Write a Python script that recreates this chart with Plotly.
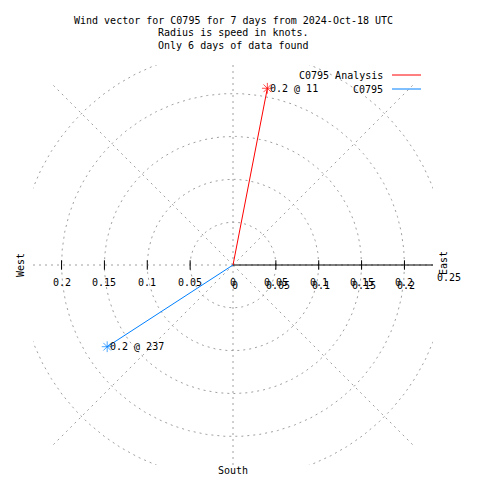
import numpy as np
import plotly.graph_objects as go

# ---- data ----
series_names = ["C0795 Analysis", "C0795"]
series_speed = [0.21, 0.175]          # knots
series_dir = [11, 237]                # degrees, clockwise from north
series_labels = ["0.2 @ 11", "0.2 @ 237"]
series_colors = ["#ff0000", "#0080ff"]

grid_radii = [0.05, 0.1, 0.15, 0.2, 0.25]
spoke_angles = [0, 45, 90, 135, 180, 225, 270, 315]
tick_vals = [-0.2, -0.15, -0.1, -0.05, 0, 0.05, 0.1, 0.15, 0.2]
tick_text = ["0.2", "0.15", "0.1", "0.05", "0", "0.05", "0.1", "0.15", "0.2"]
edge_label = "0.25"
title_lines = ["Wind vector for C0795 for 7 days from 2024-Oct-18 UTC",
               "Radius is speed in knots.",
               "Only 6 days of data found"]

R = 0.2333
FONT = "DejaVu Sans Mono"
GRID = "#a0a0a0"
OFF = 8  # page body margin
L, T, W = 33 - OFF, 65 - OFF, 400


def px(xw):
    return (xw - OFF - L) / W


def py(yw):
    return (T + W - (yw - OFF)) / W


fig = go.Figure()

# circles
th = np.linspace(0, 2 * np.pi, 721)
for r in grid_radii:
    fig.add_trace(go.Scatter(x=r * np.cos(th), y=r * np.sin(th), mode="lines",
                             line=dict(color=GRID, width=1, dash="2px,4px"),
                             hoverinfo="skip", showlegend=False))
# spokes
for a in spoke_angles:
    ar = np.deg2rad(a)
    fig.add_trace(go.Scatter(x=[0, 0.3 * np.sin(ar)], y=[0, 0.3 * np.cos(ar)], mode="lines",
                             line=dict(color=GRID, width=1, dash="2px,4px"),
                             hoverinfo="skip", showlegend=False))

# positive x axis
fig.add_trace(go.Scatter(x=[0, 0.3], y=[0, 0], mode="lines",
                         line=dict(color="black", width=1),
                         hoverinfo="skip", showlegend=False))
# ticks
tx, ty = [], []
for v in tick_vals:
    if v != 0:
        tx += [v, v, None]
        ty += [-0.0055, 0.0055, None]
fig.add_trace(go.Scatter(x=tx, y=ty, mode="lines", line=dict(color="black", width=1),
                         hoverinfo="skip", showlegend=False))

# vectors
for name, s, d, lab, c in zip(series_names, series_speed, series_dir, series_labels, series_colors):
    dr = np.deg2rad(d)
    ex, ey = s * np.sin(dr), s * np.cos(dr)
    fig.add_trace(go.Scatter(x=[0, ex], y=[0, ey], mode="lines+markers",
                             line=dict(color=c, width=1),
                             marker=dict(symbol="asterisk-open", size=[0, 9],
                                         line=dict(color=c, width=1)),
                             showlegend=False, hoverinfo="skip"))
    fig.add_annotation(x=ex, y=ey, text=lab, showarrow=False, xanchor="left",
                       yanchor="middle", xshift=1,
                       font=dict(family=FONT, size=10, color="black"))

# tick labels
for v, t in zip(tick_vals, tick_text):
    fig.add_annotation(x=v, y=0, text=t, showarrow=False, xanchor="center", yanchor="middle",
                       yshift=-17, font=dict(family=FONT, size=10, color="black"))
    if v >= 0:
        fig.add_annotation(x=v, y=0, text=t, showarrow=False, xanchor="center",
                           yanchor="middle", yshift=-20, xshift=2,
                           font=dict(family=FONT, size=10, color="black"))

txt = dict(family=FONT, size=10, color="black")
fig.add_annotation(xref="paper", yref="paper", x=px(449), y=py(277), text=edge_label,
                   showarrow=False, xanchor="center", yanchor="middle", font=txt)

# compass labels
fig.add_annotation(xref="paper", yref="paper", x=px(20), y=py(265), text="West",
                   textangle=-90, showarrow=False, xanchor="center", yanchor="middle", font=txt)
fig.add_annotation(xref="paper", yref="paper", x=px(443), y=py(263), text="East",
                   textangle=-90, showarrow=False, xanchor="center", yanchor="middle", font=txt)
fig.add_annotation(xref="paper", yref="paper", x=px(233), y=py(470), text="South",
                   showarrow=False, xanchor="center", yanchor="middle", font=txt)

# title (positions in window pixels)
for i, line in enumerate(title_lines):
    fig.add_annotation(xref="paper", yref="paper", x=0.5, y=py(20.5 + 12.5 * i),
                       text=line, showarrow=False, xanchor="center", yanchor="middle", font=txt)

# legend
for i, (name, c) in enumerate(zip(series_names, series_colors)):
    yw = 75 + 14 * i
    fig.add_annotation(xref="paper", yref="paper", x=px(385), y=py(yw),
                       text=name, showarrow=False, xanchor="right", yanchor="middle", font=txt)
    fig.add_shape(type="line", xref="paper", yref="paper",
                  x0=px(392), x1=px(421), y0=py(yw), y1=py(yw),
                  line=dict(color=c, width=1))

fig.update_xaxes(range=[-R, R], visible=False, fixedrange=True)
fig.update_yaxes(range=[-R, R], visible=False, fixedrange=True)
fig.update_layout(width=480, height=480,
                  margin=dict(l=L, r=480 - L - W, t=T, b=480 - T - W),
                  paper_bgcolor="white", plot_bgcolor="white", showlegend=False)

fig.write_html("out.html")
